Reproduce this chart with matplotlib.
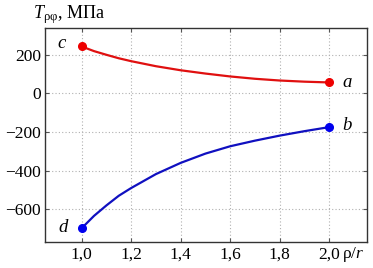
import matplotlib
matplotlib.use("Agg")
import matplotlib.pyplot as plt

rho = [1.0, 1.05, 1.1, 1.15, 1.2, 1.3, 1.4, 1.5, 1.6, 1.7, 1.8, 1.9, 2.0]
tau_red = [242, 218, 199, 181, 166, 140, 119, 102, 87, 75, 66, 60, 56]
tau_blue = [-698, -634, -580, -530, -490, -418, -360, -312, -274, -245, -219, -196, -175]
xticks = [1.0, 1.2, 1.4, 1.6, 1.8, 2.0]
xticklabels = ["1,0", "1,2", "1,4", "1,6", "1,8", "2,0"]
yticks = [200, 0, -200, -400, -600]
yticklabels = ["200", "0", "\u2212200", "\u2212400", "\u2212600"]
point_labels = ["c", "a", "b", "d"]

plt.rcParams['font.family'] = ['Liberation Serif', 'DejaVu Serif']
plt.rcParams['mathtext.fontset'] = 'custom'
plt.rcParams['mathtext.rm'] = 'Liberation Serif'
plt.rcParams['mathtext.it'] = 'Liberation Serif:italic'

fig = plt.figure(figsize=(3.73, 2.68), dpi=100)
ax = fig.add_axes([0.1206, 0.097, 0.8634, 0.7996])

ax.plot(rho, tau_red, color='#e01010', lw=1.6, zorder=3)
ax.plot([rho[0], rho[-1]], [tau_red[0], tau_red[-1]], 'o', color='#ee0000', ms=5.5, zorder=4)
ax.plot(rho, tau_blue, color='#1010c0', lw=1.6, zorder=3)
ax.plot([rho[0], rho[-1]], [tau_blue[0], tau_blue[-1]], 'o', color='#0000ee', ms=5.5, zorder=4)

ax.set_xlim(0.852, 2.153)
ax.set_ylim(-769, 339)
ax.set_xticks(xticks)
ax.set_xticklabels(xticklabels)
ax.set_yticks(yticks)
ax.set_yticklabels(yticklabels)
ax.tick_params(direction='in', length=3, width=0.8, color='#555555', labelsize=12.5,
               top=True, right=True, pad=3)
ax.grid(True, linestyle=(0, (1, 2)), color='#b0b0b0', lw=0.8)
for s in ax.spines.values():
    s.set_color('#333333')
    s.set_linewidth(1.0)

lab_kw = dict(fontsize=13.5, style='italic', ha='center', va='center')
ax.text(0.92, 258, point_labels[0], **lab_kw)
ax.text(2.072, 58, point_labels[1], **lab_kw)
ax.text(2.072, -165, point_labels[2], **lab_kw)
ax.text(0.925, -693, point_labels[3], **lab_kw)

fig.text(0.088, 0.945, r"$T_{\mathrm{\rho\varphi}}$, МПа", fontsize=13, ha='left', va='center')
fig.text(0.918, 0.052, r"$\mathrm{\rho}/r$", fontsize=12.5, ha='left', va='center')

fig.savefig("out.png", dpi=100)
